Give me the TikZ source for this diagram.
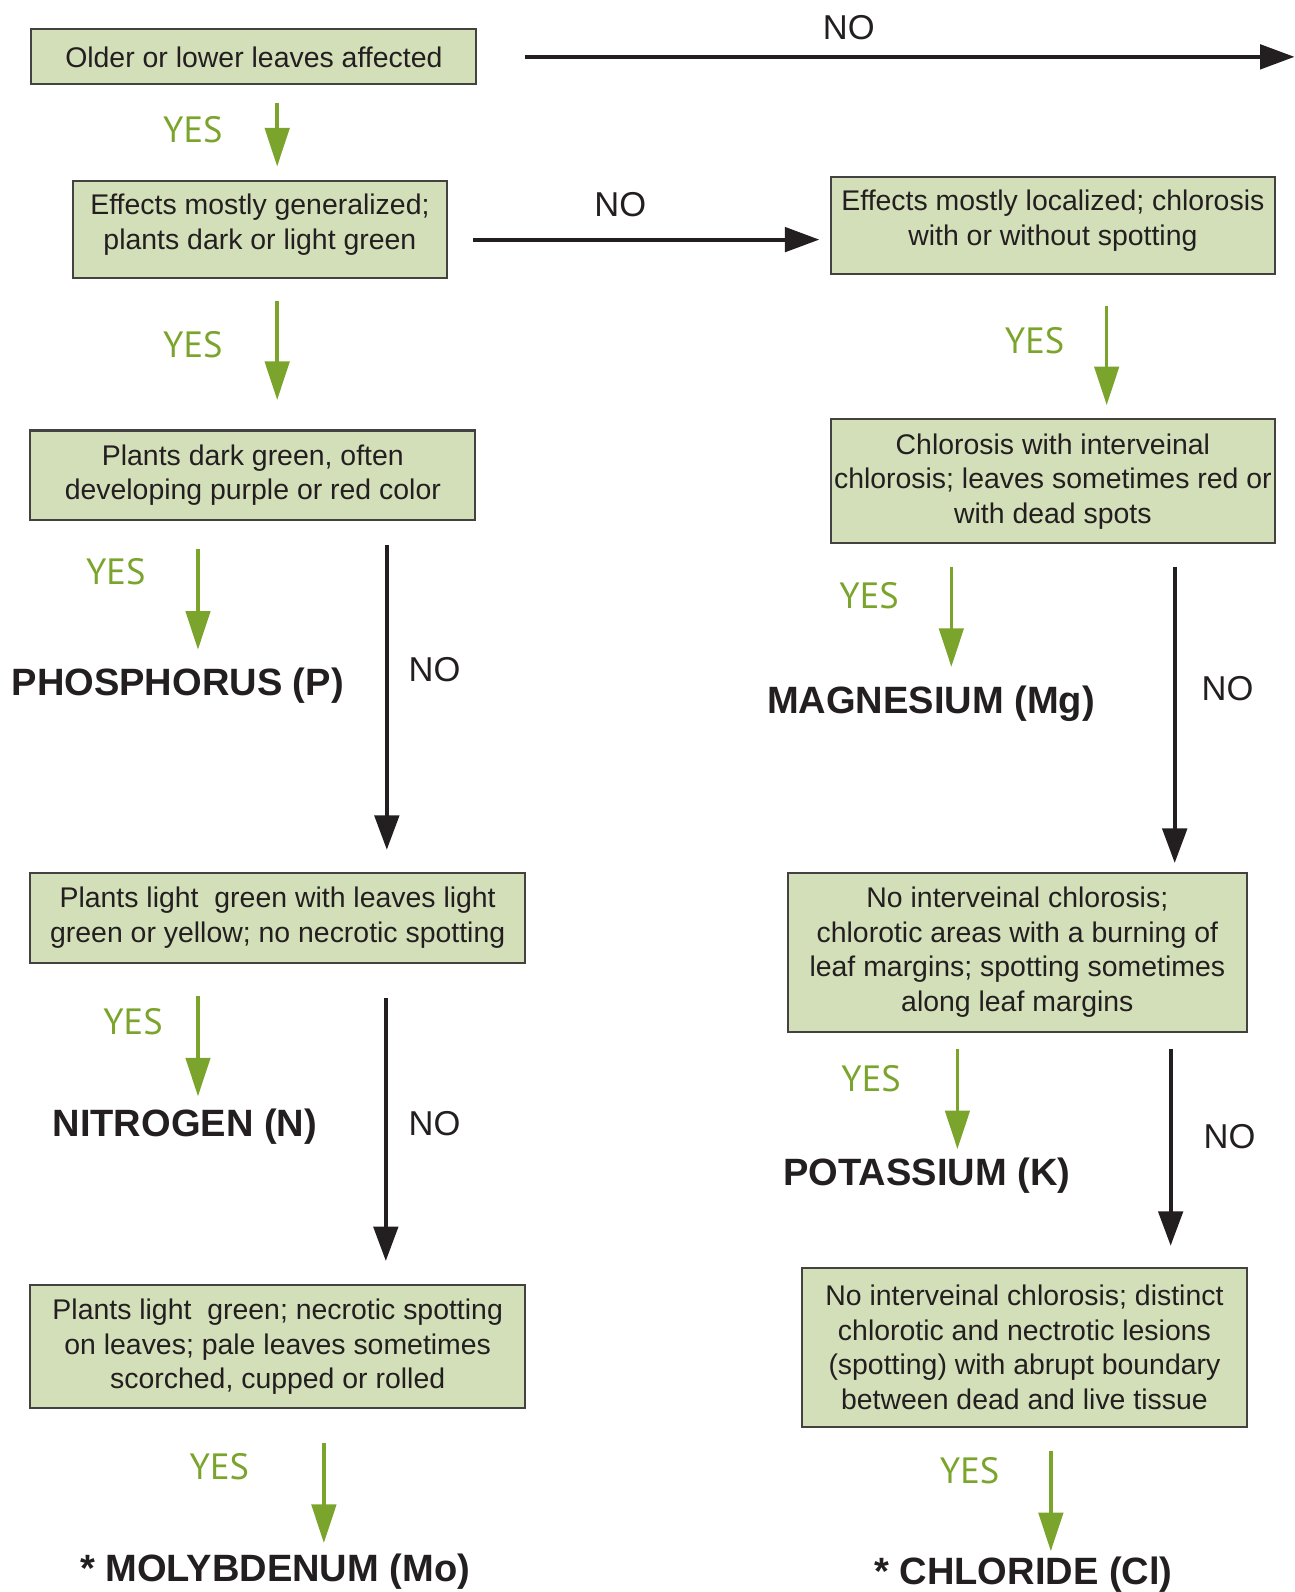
\documentclass[tikz,border=0pt]{standalone}
\usepackage{fontspec}
\setmainfont{Liberation Sans}
\newfontfamily\yesfont{PT Sans}
\usetikzlibrary{arrows.meta}
\definecolor{leaf}{HTML}{D3DFB8}
\definecolor{yesgreen}{HTML}{7AA42C}
\definecolor{ink}{HTML}{231F20}

\begin{document}
\begin{tikzpicture}[x=1pt,y=-1pt,
    box/.style={draw=ink!85, line width=2pt, fill=leaf, text=ink, align=center, inner sep=0pt,
      font=\fontsize{28}{34}\selectfont},
    topped/.style={text depth=15pt},
    nutrient/.style={text=ink, inner sep=0pt, text height=28pt, text depth=8pt,
      font=\fontsize{37.5}{40}\selectfont\bfseries},
    yes/.style={text=yesgreen, font=\fontsize{36}{40}\selectfont\yesfont},
    no/.style={text=ink, font=\fontsize{34}{40}\selectfont},
    yesline/.style={draw=yesgreen, line width=3.5pt, -{Triangle[length=38pt,width=24pt]}},
    noline/.style={draw=ink, line width=4pt, -{Triangle[length=34pt,width=24pt]}}]
      \useasboundingbox (0,0) rectangle (1275,1568);

      \node[box, minimum width=438pt, minimum height=54pt] (older) at (250,56) {Older or lower leaves affected};
      \node[box, topped, minimum width=368pt, minimum height=96pt] (general) at (256,226) {Effects mostly generalized;\\plants dark or light green};
      \node[box, topped, minimum width=438pt, minimum height=96pt] (local) at (1037,222) {Effects mostly localized; chlorosis\\with or without spotting};
      \node[box, minimum width=438pt, minimum height=88pt] (dark) at (249,468) {Plants dark green, often\\developing purple or red color};
      \node[box, minimum width=438pt, minimum height=122pt] (inter) at (1037,474) {Chlorosis with interveinal\\chlorosis; leaves sometimes red or\\with dead spots};
      \node[box, minimum width=487pt, minimum height=88pt] (light) at (273.5,904) {Plants light\ \ green with leaves light\\green or yellow; no necrotic spotting};
      \node[box, minimum width=452pt, minimum height=156pt] (burn) at (1002,938) {No interveinal chlorosis;\\chlorotic areas with a burning of\\leaf margins; spotting sometimes\\along leaf margins};
      \node[box, minimum width=487pt, minimum height=121pt] (necro) at (273.5,1326.5) {Plants light\ \ green; necrotic spotting\\on leaves; pale leaves sometimes\\scorched, cupped or rolled};
      \node[box, minimum width=438pt, minimum height=156pt] (lesion) at (1009,1327) {No interveinal chlorosis; distinct\\chlorotic and nectrotic lesions\\(spotting) with abrupt boundary\\between dead and live tissue};

      \node[nutrient] (P) at (175,675) {PHOSPHORUS (P)};
      \node[nutrient] (Mg) at (917,693) {MAGNESIUM (Mg)};
      \node[nutrient] (N) at (182,1109) {NITROGEN (N)};
      \node[nutrient] (K) at (913,1158) {POTASSIUM (K)};
      \node[nutrient] (Mo) at (271,1548) {* MOLYBDENUM (Mo)};
      \node[nutrient] (Cl) at (1008,1551) {* CHLORIDE (Cl)};

      \coordinate (edge) at (1275,56);

      \draw[noline, shorten <=47pt] (older.east) -- (edge);
      \draw[yesline, shorten <=17pt, shorten >=13pt] ([xshift=23pt]older.south) -- ([xshift=17pt]general.north);
      \draw[noline, shorten <=25pt, shorten >=10pt] ([yshift=-10pt]general.east) -- ([yshift=-10pt]general.east -| local.west);
      \draw[yesline, shorten <=21pt, shorten >=29pt] ([xshift=17pt]general.south) -- ([xshift=24pt]dark.north);
      \draw[yesline, shorten <=30pt, shorten >=13pt] ([xshift=53pt]local.south) -- ([xshift=53pt]inter.north);
      \draw[yesline, shorten <=28pt, shorten >=17pt] ([xshift=-54pt]dark.south) -- ([xshift=20pt]P.north);
      \draw[noline, shorten <=24pt, shorten >=22pt] ([xshift=132pt]dark.south) -- ([xshift=107.5pt]light.north);
      \draw[yesline, shorten <=22pt, shorten >=18pt] ([xshift=-100pt]inter.south) -- ([xshift=20pt]Mg.north);
      \draw[noline, shorten <=22pt, shorten >=9pt] ([xshift=120pt]inter.south) -- ([xshift=155pt]burn.north);
      \draw[yesline, shorten <=32pt, shorten >=11pt] ([xshift=-78.5pt]light.south) -- ([xshift=13pt]N.north);
      \draw[noline, shorten <=34pt, shorten >=23pt] ([xshift=106.5pt]light.south) -- ([xshift=106.5pt]necro.north);
      \draw[yesline, shorten <=16pt, shorten >=8pt] ([xshift=-59pt]burn.south) -- ([xshift=30pt]K.north);
      \draw[noline, shorten <=16pt, shorten >=21pt] ([xshift=151pt]burn.south) -- ([xshift=144pt]lesion.north);
      \draw[yesline, shorten <=33pt, shorten >=10pt] ([xshift=45.5pt]necro.south) -- ([xshift=48pt]Mo.north);
      \draw[yesline, shorten <=23pt, shorten >=5pt] ([xshift=26pt]lesion.south) -- ([xshift=27pt]Cl.north);

      \node[no] (no1) at (836,27) {NO};
      \node[yes] (yes1) at (190,128) {YES};
      \node[no] (no2) at (611,202) {NO};
      \node[yes] (yes2) at (190,340) {YES};
      \node[yes] (yes3) at (1019,336) {YES};
      \node[yes] (yes4) at (114,563) {YES};
      \node[no] (no3) at (428,660) {NO};
      \node[yes] (yes5) at (856,587) {YES};
      \node[no] (no4) at (1209,678) {NO};
      \node[yes] (yes6) at (131,1006) {YES};
      \node[no] (no5) at (428,1107) {NO};
      \node[yes] (yes7) at (858,1062) {YES};
      \node[no] (no6) at (1211,1119) {NO};
      \node[yes] (yes8) at (216,1445) {YES};
      \node[yes] (yes9) at (955,1449) {YES};
    \end{tikzpicture}
\end{document}
